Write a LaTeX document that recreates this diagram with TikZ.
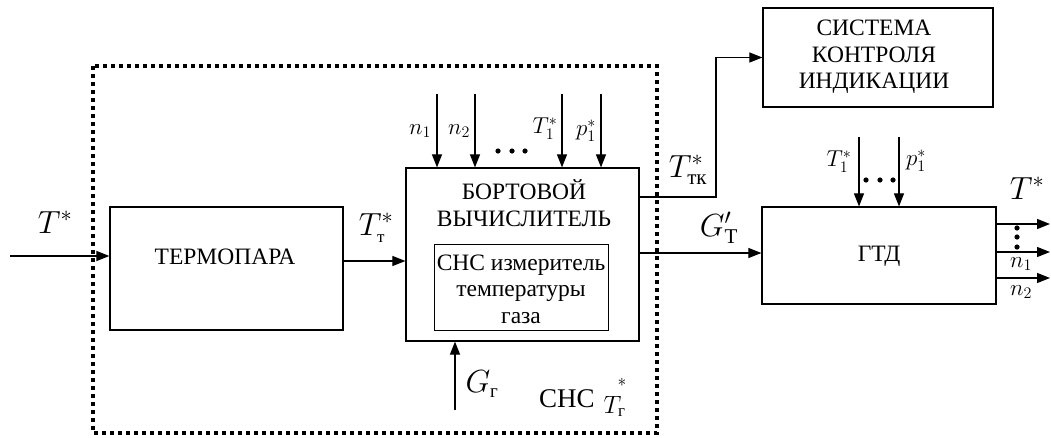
\RequirePackage{fix-cm}
\documentclass[tikz,border=0pt]{standalone}
\usepackage{amsmath}
\usepackage{fontspec}
\setmainfont{Liberation Serif}
\usetikzlibrary{arrows.meta}
\newcommand{\sz}[1]{\fontsize{#1}{#1}\selectfont}
\tikzset{
  blk/.style={draw, line width=1.2pt, rectangle, inner sep=0pt},
  arr/.style={line width=1.1pt, -{Triangle[length=13pt,width=10pt]}},
  txt/.style={font=\fontsize{23.5}{26.5}\selectfont, align=center, inner sep=0pt},
  ibig/.style={font=\fontsize{32}{32}\selectfont, inner sep=0pt},
  ismall/.style={font=\fontsize{23}{23}\selectfont, inner sep=0pt},
  dotfr/.style={line width=4pt, dash pattern=on 4pt off 4pt},
}
\begin{document}
\begin{tikzpicture}[x=1pt,y=-1pt]
\useasboundingbox (0,0) rectangle (1051,437);
% dotted frame
\draw[dotfr] (93,66) rectangle (657,433);
% blocks
\node[blk, minimum width=233pt, minimum height=123pt] (termo) at (226.5,268.5) {};
\node[txt] (termot) at (225,257) {ТЕРМОПАРА};
\node[blk, minimum width=233pt, minimum height=173pt] (bort) at (522.5,254.5) {};
\node[txt] (bortt) at (524,203) {БОРТОВОЙ\\ВЫЧИСЛИТЕЛЬ};
\node[blk, line width=1pt, minimum width=174pt, minimum height=86pt] (inner) at (521,287) {};
\node[txt] (innert) at (521,289) {СНС измеритель\\температуры\\газа};
\node[blk, minimum width=230pt, minimum height=99pt] (sys) at (878,57.5) {};
\node[txt] (syst) at (874,57) {СИСТЕМА\\КОНТРОЛЯ\\ИНДИКАЦИИ};
\node[blk, minimum width=234pt, minimum height=97pt] (gtd) at (879,255.5) {};
\node[txt] (gtdt) at (879,256) {ГТД};
% input
\coordinate (tin) at (10,256);
\draw[arr] (tin) -- (tin -| termo.west);
\node[ibig] (lTin) at (55,222) {$T^{*}$};
% termo -> bort
\coordinate (tt) at (343,261);
\draw[arr] (tt) -- (tt -| bort.west);
\node[ibig] (lTt) at (376,228) {$T^{*}_{\text{\sz{17}т}}$};
% top inputs to bort
\foreach \x/\n in {437/a1,475/a2,562/a3,601/a4}{
  \coordinate (\n) at (\x,94);
  \draw[arr] (\n) -- (\n |- bort.north);
}
\node[ismall] (ln1) at (420,131) {$n_1$};
\node[ismall] (ln2) at (459,131) {$n_2$};
\node[ismall] (lT1) at (545,129) {$T_1^{*}$};
\node[ismall] (lp1) at (586,131) {$p_1^{*}$};
\foreach \x in {498,512,525} \fill (\x,151) circle (2.6pt);
% T_tk to system
\coordinate (tk) at (639,197);
\draw[arr] (tk) -- (716,197) |- (sys.west);
\node[ibig] (lTtk) at (688,170) {$T^{*}_{\text{\sz{21}тк}}$};
% G_T'
\coordinate (gt) at (639,253);
\draw[arr] (gt) -- (gt -| gtd.west);
\node[ibig] (lGT) at (719,228) {$G^{\prime}_{\text{\sz{21}Т}}$};
% G_g
\coordinate (gg) at (455,410);
\draw[arr] (gg) -- (gg |- bort.south);
\node[ibig] (lGg) at (482,384) {$G_{\text{\sz{19}г}}$};
\node[inner sep=0pt, font=\sz{27}, anchor=base west] (lsns) at (539,407)
  {СНС\hspace{9pt}\raisebox{-6pt}{\sz{25}$T_{\text{\sz{17}г}}$}\kern-8pt\raisebox{21pt}{\sz{25}$\scriptstyle *$}};
% gtd top inputs
\foreach \x/\n in {859/b1,899/b2}{
  \coordinate (\n) at (\x,137);
  \draw[arr] (\n) -- (\n |- gtd.north);
}
\node[ismall] (gT1) at (839,162) {$T_1^{*}$};
\node[ismall] (gp1) at (916,161) {$p_1^{*}$};
\foreach \x in {866,880,893} \fill (\x,180) circle (2.6pt);
% outputs
\foreach \y/\n in {224/o1,252/o2,278/o3}{
  \coordinate (\n) at (1050,\y);
  \draw[arr] (\n -| gtd.east) -- (\n);
}
\foreach \y in {228,237,247} \fill (1017,\y) circle (2.6pt);
\node[ibig] (lTout) at (1027,188) {$T^{*}$};
\node[ismall] (on1) at (1021,264) {$n_1$};
\node[ismall] (on2) at (1021,292) {$n_2$};
\end{tikzpicture}
\end{document}
